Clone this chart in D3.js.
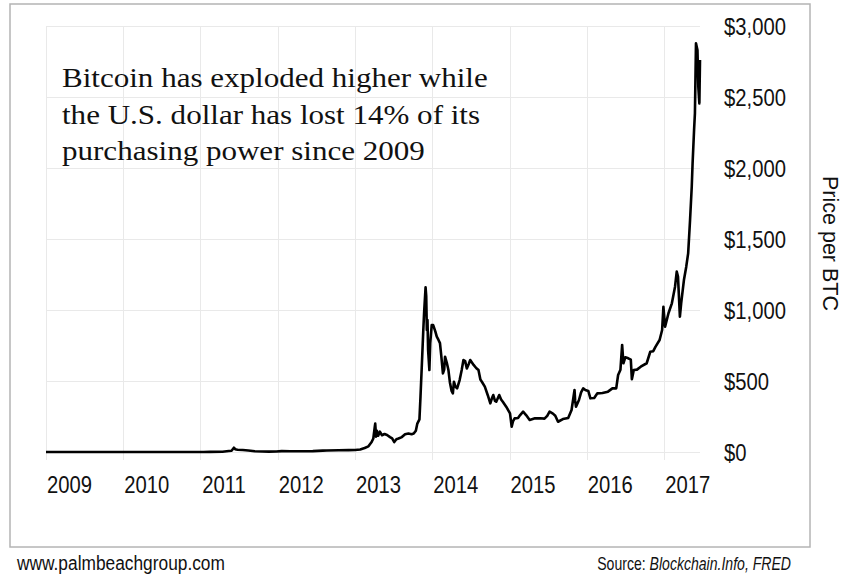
<!DOCTYPE html>
<html><head><meta charset="utf-8">
<script src="https://cdn.jsdelivr.net/npm/d3@7/dist/d3.min.js"></script>
<style>body{margin:0;background:#fff}svg{display:block}</style>
</head><body>
<svg id="chart" width="841" height="577"></svg>
<script>
// ---- data ----
const dates = ["2009-01-01","2010-07-17","2010-11-01","2011-01-15","2011-02-15","2011-04-15","2011-05-15","2011-05-28","2011-06-08","2011-06-14","2011-06-25","2011-07-20","2011-08-15","2011-09-15","2011-10-20","2011-11-20","2011-12-25","2012-01-20","2012-03-01","2012-05-01","2012-06-15","2012-08-01","2012-08-20","2012-10-15","2012-12-01","2013-01-01","2013-01-25","2013-02-15","2013-03-05","2013-03-20","2013-03-28","2013-04-04","2013-04-06","2013-04-10","2013-04-14","2013-04-20","2013-04-28","2013-05-08","2013-05-20","2013-06-01","2013-06-15","2013-06-25","2013-07-05","2013-07-15","2013-07-25","2013-08-10","2013-08-25","2013-09-10","2013-09-25","2013-10-05","2013-10-15","2013-10-22","2013-11-01","2013-11-06","2013-11-12","2013-11-19","2013-11-23","2013-11-30","2013-12-03","2013-12-06","2013-12-09","2013-12-12","2013-12-18","2013-12-22","2013-12-29","2014-01-05","2014-01-15","2014-01-22","2014-01-30","2014-02-06","2014-02-12","2014-02-20","2014-02-26","2014-03-02","2014-03-10","2014-03-18","2014-03-25","2014-04-02","2014-04-08","2014-04-13","2014-04-20","2014-04-28","2014-05-10","2014-05-20","2014-05-28","2014-06-05","2014-06-13","2014-06-22","2014-06-29","2014-07-15","2014-07-28","2014-08-07","2014-08-16","2014-08-23","2014-09-06","2014-09-20","2014-10-02","2014-10-10","2014-10-16","2014-10-24","2014-10-30","2014-11-13","2014-11-22","2014-11-30","2014-12-16","2015-01-03","2015-01-11","2015-01-17","2015-01-25","2015-02-10","2015-02-20","2015-03-06","2015-03-20","2015-04-06","2015-05-01","2015-05-25","2015-06-15","2015-06-28","2015-07-09","2015-07-25","2015-08-05","2015-08-18","2015-09-10","2015-10-05","2015-10-21","2015-11-04","2015-11-07","2015-11-11","2015-11-25","2015-12-05","2015-12-15","2015-12-25","2016-01-08","2016-01-18","2016-02-05","2016-02-20","2016-03-15","2016-04-10","2016-05-01","2016-05-19","2016-05-28","2016-06-08","2016-06-16","2016-06-22","2016-07-01","2016-07-15","2016-07-27","2016-08-01","2016-08-10","2016-08-25","2016-09-12","2016-10-10","2016-10-27","2016-11-10","2016-11-21","2016-12-10","2016-12-22","2016-12-28","2017-01-05","2017-01-21","2017-02-06","2017-02-21","2017-03-01","2017-03-07","2017-03-16","2017-03-22","2017-04-04","2017-04-15","2017-04-24","2017-05-03","2017-05-11","2017-05-15","2017-05-22","2017-05-26","2017-05-31","2017-06-04","2017-06-07","2017-06-11","2017-06-16","2017-06-19"];
const prices = [0,0.05,0.25,0.4,1,1.5,7,9,30,20,16,14,11,5,3,2.5,4,6,5,5,6.5,10,11,12,13,14,18,28,40,70,95,178,200,108,150,115,143,118,127,120,105,96,70,90,95,105,125,130,125,130,150,200,230,390,600,850,980,1160,1100,860,930,718,577,767,894,894,850,812,789,767,680,554,580,671,630,577,490,430,413,495,460,448,507,580,648,640,589,620,648,613,590,577,510,495,460,400,343,380,401,360,354,401,370,354,319,272,178,215,237,240,260,284,260,225,237,238,235,255,284,270,255,213,232,240,296,437,360,319,366,420,448,437,430,378,380,413,415,425,448,448,542,580,754,625,667,660,650,512,577,580,601,625,706,710,742,789,859,1023,882,977,1047,1164,1270,1235,953,1047,1211,1305,1399,1634,1868,2033,2268,2385,2878,2850,2831,2573,2455,2761];
const yearTicks = ["2009","2010","2011","2012","2013","2014","2015","2016","2017"];
const priceTicks = [0,500,1000,1500,2000,2500,3000];
const titleLines = ["Bitcoin has exploded higher while","the U.S. dollar has lost 14% of its","purchasing power since 2009"];
const yAxisTitle = "Price per BTC";
const footerLeft = "www.palmbeachgroup.com";
const sourceLabel = "Source: ";
const sourceNames = "Blockchain.Info, FRED";

// ---- setup ----
const parse = d3.utcParse("%Y-%m-%d");
const series = dates.map((d,i)=>({date:parse(d), value:prices[i]}));
const svg = d3.select("#chart");
const SANS = "'Liberation Sans', Arial, sans-serif";
const SERIF = "'Liberation Serif', 'Times New Roman', serif";

const x = d3.scaleUtc().domain([parse("2009-01-01"), parse("2017-06-19")]).range([46, 700]);
const y = d3.scaleLinear().domain([0, 3000]).range([452, 26]);

// outer frame
svg.append("rect").attr("x",10).attr("y",4).attr("width",800).attr("height",543)
  .attr("fill","#fff").attr("stroke","#b4b4b4").attr("stroke-width",1.5);

// gridlines
const yearDates = yearTicks.map(t=>parse(t+"-01-01"));
svg.append("g").selectAll("line").data(yearDates).join("line")
  .attr("x1",d=>Math.round(x(d))+0.5).attr("x2",d=>Math.round(x(d))+0.5)
  .attr("y1",y(3000)).attr("y2",y(0)+8)
  .attr("stroke","#e9e9e9").attr("stroke-width",1);
svg.append("g").selectAll("line").data(priceTicks).join("line")
  .attr("x1",x.range()[0]).attr("x2",x.range()[1])
  .attr("y1",d=>Math.round(y(d))+0.5).attr("y2",d=>Math.round(y(d))+0.5)
  .attr("stroke","#e9e9e9").attr("stroke-width",1);

// the line
svg.append("path").datum(series)
  .attr("fill","none").attr("stroke","#000").attr("stroke-width",2.6)
  .attr("stroke-linejoin","round")
  .attr("d", d3.line().x(d=>x(d.date)).y(d=>y(d.value)));

const SX = 0.88; // condensed tick font
// x axis
const xAxis = svg.append("g").attr("transform",`translate(0,${y(0)})`)
  .call(d3.axisBottom(x).tickValues(yearDates).tickFormat(d3.utcFormat("%Y")).tickSize(0));
xAxis.select(".domain").remove();
xAxis.selectAll("text")
  .attr("x", 23/SX).attr("y", 41).attr("dy", 0)
  .attr("transform", `scale(${SX},1)`)
  .attr("fill","#111").style("font-family",SANS).style("font-size","23px");

// y axis
const yAxis = svg.append("g").attr("transform",`translate(${x.range()[1]},0)`)
  .call(d3.axisRight(y).tickValues(priceTicks).tickFormat(d=>"$"+d3.format(",")(d)).tickSize(0));
yAxis.select(".domain").remove();
yAxis.selectAll("text")
  .attr("x", 24/SX).attr("dy","0.36em")
  .attr("transform", `scale(${SX},1)`)
  .attr("fill","#111").style("font-family",SANS).style("font-size","23px");

// y axis title
svg.append("text").attr("transform","translate(823,243.5) rotate(90)")
  .attr("text-anchor","middle").attr("fill","#111")
  .style("font-family",SANS).style("font-size","21.5px").text(yAxisTitle);

// annotation title
const tg = svg.append("g");
const tl = tg.selectAll("text").data(titleLines).join("text")
  .attr("x",0).attr("y",0)
  .attr("fill","#111").style("font-family",SERIF).style("font-size","27.5px")
  .text(d=>d);
const w0 = tl.nodes()[0].getComputedTextLength();
const tsx = 426 / w0;
tl.attr("transform",(d,i)=>`translate(62,${87 + i*36.5}) scale(${tsx},1)`);

// footer
const fl = svg.append("text").attr("x",0).attr("y",0)
  .attr("fill","#111").style("font-family",SANS).style("font-size","20px").text(footerLeft);
const fsx = 208 / fl.node().getComputedTextLength();
fl.attr("transform",`translate(17,570) scale(${fsx},1)`);

const fr = svg.append("text").attr("x",0).attr("y",0).attr("text-anchor","end")
  .attr("fill","#111").style("font-family",SANS).style("font-size","18px");
fr.append("tspan").text(sourceLabel);
fr.append("tspan").style("font-style","italic").text(sourceNames);
const rsx = 194 / fr.node().getComputedTextLength();
fr.attr("transform",`translate(791,570) scale(${rsx},1)`);
</script>
</body></html>
